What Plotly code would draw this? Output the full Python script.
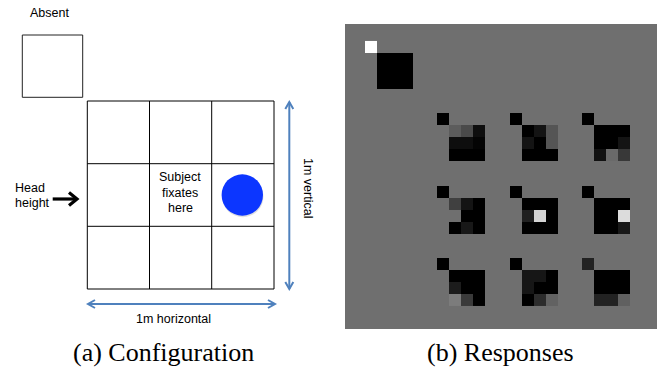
import numpy as np
import plotly.graph_objects as go

W, H = 659, 368
BG = 111  # gray level of the response panel background

# ---------------- Data: responses (gray level 0=black .. 255=white) -------------
absent_cfg_absent = 255
absent_cfg_grid = [[0, 0, 0], [0, 0, 0], [0, 0, 0]]

# stimulus locations in reading order (row, col) of the 3x3 configuration
locations = [(0, 0), (0, 1), (0, 2), (1, 0), (1, 1), (1, 2), (2, 0), (2, 1), (2, 2)]
loc_absent = [0, 0, 0, 0, 0, 0, 0, 0, 34]
loc_r00 = [[92, 74, 14], [14, 14, 4], [0, 0, 0]]
loc_r01 = [[0, 20, 85], [20, 0, 85], [0, 0, 0]]
loc_r02 = [[0, 0, 0], [0, 0, 20], [17, 106, 56]]
loc_r10 = [[64, 20, 0], [111, 0, 0], [0, 24, 0]]
loc_r11 = [[0, 0, 0], [32, 212, 0], [0, 0, 0]]
loc_r12 = [[0, 0, 0], [0, 0, 220], [0, 0, 24]]
loc_r20 = [[0, 0, 0], [28, 0, 0], [124, 58, 0]]
loc_r21 = [[22, 22, 0], [22, 0, 0], [0, 44, 98]]
loc_r22 = [[0, 0, 0], [0, 0, 0], [34, 34, 96]]
loc_grids = [loc_r00, loc_r01, loc_r02, loc_r10, loc_r11, loc_r12, loc_r20, loc_r21, loc_r22]

# ---------------- Build response image -------------
N = 22
z = np.full((N, N), np.nan)


def place(r0, c0, a, g):
    z[r0, c0] = a
    for i in range(3):
        for j in range(3):
            z[r0 + 1 + i, c0 + 1 + j] = g[i][j]


place(0, 0, absent_cfg_absent, absent_cfg_grid)
for (r, c), a, g in zip(locations, loc_absent, loc_grids):
    place(6 * (r + 1), 6 * (c + 1), a, g)

fig = go.Figure()

# invisible trace to register the diagram subplot
fig.add_trace(go.Scatter(x=[0], y=[0], mode="markers", marker=dict(opacity=0),
                         hoverinfo="skip", showlegend=False))

fig.add_trace(go.Heatmap(
    z=z, x=np.arange(N) + 0.5, y=np.arange(N) + 0.5,
    colorscale=[[0, "rgb(0,0,0)"], [1, "rgb(255,255,255)"]],
    zmin=0, zmax=255, showscale=False, hoverongaps=False,
    xaxis="x2", yaxis="y2"))

shapes = []
# response panel gray background
shapes.append(dict(type="rect", xref="paper", yref="paper",
                   x0=345 / W, x1=657 / W, y0=1 - 329 / H, y1=1 - 24 / H,
                   fillcolor=f"rgb({BG},{BG},{BG})", line=dict(width=0), layer="below"))

# ---------------- Configuration diagram -------------
# absent square
shapes.append(dict(type="rect", xref="x", yref="y", x0=22.3, x1=82.7, y0=35, y1=97.3,
                   line=dict(color="#222", width=1)))
# 3x3 grid
gx = [87.3, 149.5, 211.7, 274]
gy = [101, 163.7, 226.3, 289]
shapes.append(dict(type="rect", xref="x", yref="y", x0=gx[0], x1=gx[3], y0=gy[0], y1=gy[3],
                   line=dict(color="black", width=1)))
for xv in gx[1:3]:
    shapes.append(dict(type="line", xref="x", yref="y", x0=xv, x1=xv, y0=gy[0], y1=gy[3],
                       line=dict(color="black", width=1)))
for yv in gy[1:3]:
    shapes.append(dict(type="line", xref="x", yref="y", x0=gx[0], x1=gx[3], y0=yv, y1=yv,
                       line=dict(color="black", width=1)))
# blue ball with faint shadow
cx, cy, rr = 242.3, 195, 20.7
shapes.append(dict(type="circle", xref="x", yref="y", x0=cx - rr + 0.5, x1=cx + rr + 0.5,
                   y0=cy - rr + 1.5, y1=cy + rr + 1.5,
                   fillcolor="rgba(0,0,0,0.12)", line=dict(width=0)))
shapes.append(dict(type="circle", xref="x", yref="y", x0=cx - rr, x1=cx + rr,
                   y0=cy - rr, y1=cy + rr,
                   fillcolor="rgb(12,54,255)", line=dict(width=0)))
# black head-height arrow
shapes.append(dict(type="path", xref="x", yref="y",
                   path="M 52.7,199 L 76.5,199", line=dict(color="black", width=3.2)))
shapes.append(dict(type="path", xref="x", yref="y",
                   path="M 69,192.5 L 77,199 L 69,205.5", line=dict(color="black", width=3.2)))
# blue double arrows
BLUE = "rgb(79,129,189)"
hx0, hx1, hy = 88, 275, 304
shapes.append(dict(type="path", xref="x", yref="y", path=f"M {hx0},{hy} L {hx1},{hy}",
                   line=dict(color=BLUE, width=2)))
shapes.append(dict(type="path", xref="x", yref="y",
                   path=f"M {hx0+7},{hy-4} L {hx0},{hy} L {hx0+7},{hy+4}", line=dict(color=BLUE, width=2)))
shapes.append(dict(type="path", xref="x", yref="y",
                   path=f"M {hx1-7},{hy-4} L {hx1},{hy} L {hx1-7},{hy+4}", line=dict(color=BLUE, width=2)))
vx, vy0, vy1 = 289.3, 102, 289
shapes.append(dict(type="path", xref="x", yref="y", path=f"M {vx},{vy0} L {vx},{vy1}",
                   line=dict(color=BLUE, width=2)))
shapes.append(dict(type="path", xref="x", yref="y",
                   path=f"M {vx-4},{vy0+7} L {vx},{vy0} L {vx+4},{vy0+7}", line=dict(color=BLUE, width=2)))
shapes.append(dict(type="path", xref="x", yref="y",
                   path=f"M {vx-4},{vy1-7} L {vx},{vy1} L {vx+4},{vy1-7}", line=dict(color=BLUE, width=2)))

SANS = "Liberation Sans, Arial, sans-serif"
SERIF = "Liberation Serif, Times New Roman, serif"
anns = []


def txt(x, y, s, size=12.5, font=SANS, xanchor="center", angle=0):
    anns.append(dict(x=x, y=y, xref="x", yref="y", text=s, showarrow=False,
                     xanchor=xanchor, yanchor="middle", textangle=angle,
                     font=dict(family=font, size=size, color="black")))


txt(49, 13, "Absent")
txt(180.3, 177, "Subject")
txt(180.3, 192.5, "fixates")
txt(180.3, 207.5, "here")
txt(13, 188, "Head", xanchor="left")
txt(13, 203, "height", xanchor="left")
txt(173.7, 319.3, "1m horizontal")
txt(307.3, 188.3, "1m vertical", angle=90)
txt(163.5, 352, "(a) Configuration", size=26, font=SERIF)
txt(500, 352, "(b) Responses", size=26, font=SERIF)

fig.update_layout(
    width=W, height=H, margin=dict(l=0, r=0, t=0, b=0),
    paper_bgcolor="white", plot_bgcolor="rgba(0,0,0,0)",
    showlegend=False, shapes=shapes, annotations=anns,
    xaxis=dict(range=[0, W], domain=[0, 1], visible=False, fixedrange=True),
    yaxis=dict(range=[H, 0], domain=[0, 1], visible=False, fixedrange=True),
    xaxis2=dict(range=[-1.66, 24.23], domain=[345 / W, 657 / W], visible=False,
                anchor="y2", fixedrange=True),
    yaxis2=dict(range=[23.94, -1.41], domain=[1 - 329 / H, 1 - 24 / H], visible=False,
                anchor="x2", fixedrange=True),
)

fig.write_html("out.html", config={"displayModeBar": False},
               post_script="document.body.style.margin='0';document.body.style.overflow='hidden';")
